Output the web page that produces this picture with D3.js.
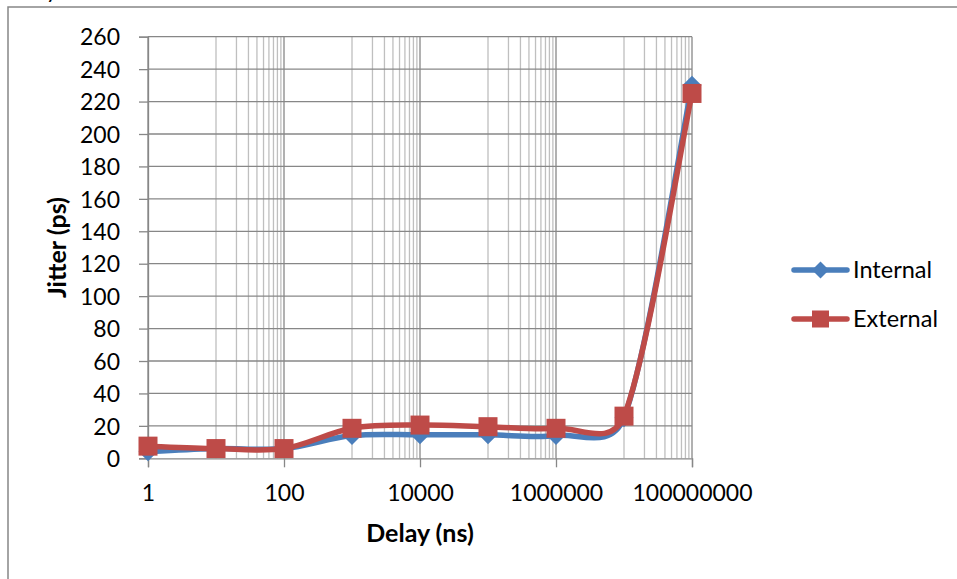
<!DOCTYPE html>
<html>
<head>
<meta charset="utf-8">
<script src="https://cdn.jsdelivr.net/npm/d3@7"></script>
<style>
  html, body { margin: 0; padding: 0; background: #fff; overflow: hidden; }
  svg { display: block; font-family: Lato, "Open Sans", sans-serif; }
</style>
</head>
<body>
<div id="chart"></div>
<script>
// data
const delays = [1, 10, 100, 1000, 10000, 100000, 1000000, 10000000, 100000000];
const internalJitter = [4, 6, 6, 14, 14.5, 14.5, 14, 25, 230];
const externalJitter = [7.5, 6, 6, 18.5, 20.5, 19.5, 18.5, 26, 225];
const seriesNames = ['Internal', 'External'];
const xMajorTicks = [1, 100, 10000, 1000000, 100000000];
const yTicks = d3.range(0, 261, 20);

const width = 957, height = 579;
const plot = { left: 148, right: 692, top: 36.7, bottom: 458.3 };

const blue = '#4A7EBB', red = '#BE4B48';
const majorGrid = '#878787', minorGrid = '#BFBFBF';

const svg = d3.select('#chart').append('svg')
    .attr('width', width)
    .attr('height', height);

// chart area border (cut off at right and bottom)
svg.append('rect')
    .attr('x', 8).attr('y', 7)
    .attr('width', 1000).attr('height', 700)
    .attr('fill', 'none')
    .attr('stroke', '#878787')
    .attr('stroke-width', 1.5);

// remains of a title cut off above
svg.append('text')
    .attr('x', 46).attr('y', -2)
    .attr('font-size', 22)
    .attr('fill', '#000')
    .text('y');

const x = d3.scaleLog().domain([1, 1e8]).range([plot.left, plot.right]);
const y = d3.scaleLinear().domain([0, 260]).range([plot.bottom, plot.top]);

// minor vertical gridlines: 10,20..90 within each 100x step
const minorTicks = [];
for (let n = 0; n < 4; n++) {
    for (let k = 1; k <= 9; k++) minorTicks.push(10 * Math.pow(100, n) * k);
}

const grid = svg.append('g');
grid.selectAll('line.minor')
    .data(minorTicks)
    .join('line')
    .attr('x1', d => x(d)).attr('x2', d => x(d))
    .attr('y1', plot.top).attr('y2', plot.bottom)
    .attr('stroke', minorGrid)
    .attr('stroke-width', 1.3);

grid.selectAll('line.h')
    .data(yTicks.filter(d => d > 0))
    .join('line')
    .attr('x1', plot.left).attr('x2', plot.right)
    .attr('y1', d => y(d)).attr('y2', d => y(d))
    .attr('stroke', majorGrid)
    .attr('stroke-width', 1.3);

grid.selectAll('line.major')
    .data(xMajorTicks)
    .join('line')
    .attr('x1', d => x(d)).attr('x2', d => x(d))
    .attr('y1', plot.top).attr('y2', plot.bottom)
    .attr('stroke', majorGrid)
    .attr('stroke-width', 1.3);

// axes
const yAxis = svg.append('g')
    .attr('transform', `translate(${plot.left},0)`)
    .call(d3.axisLeft(y).tickValues(yTicks).tickSize(9).tickPadding(19));
const xAxis = svg.append('g')
    .attr('transform', `translate(0,${plot.bottom})`)
    .call(d3.axisBottom(x).tickValues(xMajorTicks).tickFormat(d3.format('d')).tickSize(9).tickPadding(17));

[xAxis, yAxis].forEach(a => {
    a.select('.domain').attr('stroke', majorGrid).attr('stroke-width', 1.3);
    a.selectAll('.tick line').attr('stroke', majorGrid).attr('stroke-width', 1.3);
    a.selectAll('.tick text')
        .attr('fill', '#000')
        .attr('font-size', 23)
        .attr('font-family', 'Lato, sans-serif');
});
yAxis.selectAll('.tick text').attr('dy', '0.36em');

// axis titles
svg.append('text')
    .attr('x', (plot.left + plot.right) / 2)
    .attr('y', 542)
    .attr('text-anchor', 'middle')
    .attr('font-size', 25)
    .attr('font-weight', 'bold')
    .text('Delay (ns)');

svg.append('text')
    .attr('transform', `translate(66,${(plot.top + plot.bottom) / 2}) rotate(-90)`)
    .attr('text-anchor', 'middle')
    .attr('font-size', 25)
    .attr('font-weight', 'bold')
    .text('Jitter (ps)');

// Excel-style smoothed line: bezier per segment, control arms limited to half the segment
function smoothPath(pts) {
    const p = d3.path();
    const dist = (a, b) => Math.hypot(b[0] - a[0], b[1] - a[1]);
    p.moveTo(pts[0][0], pts[0][1]);
    for (let i = 0; i < pts.length - 1; i++) {
        const p0 = pts[Math.max(i - 1, 0)];
        const p1 = pts[i];
        const p2 = pts[i + 1];
        const p3 = pts[Math.min(i + 2, pts.length - 1)];
        const d02 = dist(p0, p2), d12 = dist(p1, p2), d13 = dist(p1, p3);
        let f0 = 1 / 6, f1 = 1 / 6;
        if (d02 / 6 >= d12 / 2 && d02 > 0) f0 = d12 / 2 / d02;
        if (d13 / 6 >= d12 / 2 && d13 > 0) f1 = d12 / 2 / d13;
        const c1 = [p1[0] + (p2[0] - p0[0]) * f0, p1[1] + (p2[1] - p0[1]) * f0];
        const c2 = [p2[0] - (p3[0] - p1[0]) * f1, p2[1] - (p3[1] - p1[1]) * f1];
        p.bezierCurveTo(c1[0], c1[1], c2[0], c2[1], p2[0], p2[1]);
    }
    return p.toString();
}

function diamond(cx, cy, r) {
    return `M${cx},${cy - r}L${cx + r},${cy}L${cx},${cy + r}L${cx - r},${cy}Z`;
}

const series = [
    { name: seriesNames[0], values: internalJitter, color: blue, marker: 'diamond' },
    { name: seriesNames[1], values: externalJitter, color: red, marker: 'square' }
];

series.forEach(s => {
    const pts = delays.map((d, i) => [d, s.values[i]]);
    const g = svg.append('g');
    g.append('path')
        .attr('d', smoothPath(pts.map(d => [x(d[0]), y(d[1])])))
        .attr('fill', 'none')
        .attr('stroke', s.color)
        .attr('stroke-width', 5.5)
        .attr('stroke-linejoin', 'round')
        .attr('stroke-linecap', 'round');
    if (s.marker === 'diamond') {
        g.selectAll('path.m')
            .data(pts)
            .join('path')
            .attr('d', d => diamond(x(d[0]), y(d[1]), 9.5))
            .attr('fill', s.color);
    } else {
        g.selectAll('rect.m')
            .data(pts)
            .join('rect')
            .attr('x', d => x(d[0]) - 9.5)
            .attr('y', d => y(d[1]) - 9.5)
            .attr('width', 19).attr('height', 19)
            .attr('fill', s.color);
    }
});

// legend
const legend = svg.append('g');
series.forEach((s, i) => {
    const ly = 270 + i * 49;
    legend.append('line')
        .attr('x1', 794).attr('x2', 847)
        .attr('y1', ly).attr('y2', ly)
        .attr('stroke', s.color)
        .attr('stroke-width', 5.5)
        .attr('stroke-linecap', 'round');
    if (s.marker === 'diamond') {
        legend.append('path').attr('d', diamond(820.5, ly, 8.5)).attr('fill', s.color);
    } else {
        legend.append('rect')
            .attr('x', 812).attr('y', ly - 8.5)
            .attr('width', 17).attr('height', 17)
            .attr('fill', s.color);
    }
    legend.append('text')
        .attr('x', 853).attr('y', ly)
        .attr('dy', '0.36em')
        .attr('font-size', 23.5)
        .text(s.name);
});
</script>
</body>
</html>
